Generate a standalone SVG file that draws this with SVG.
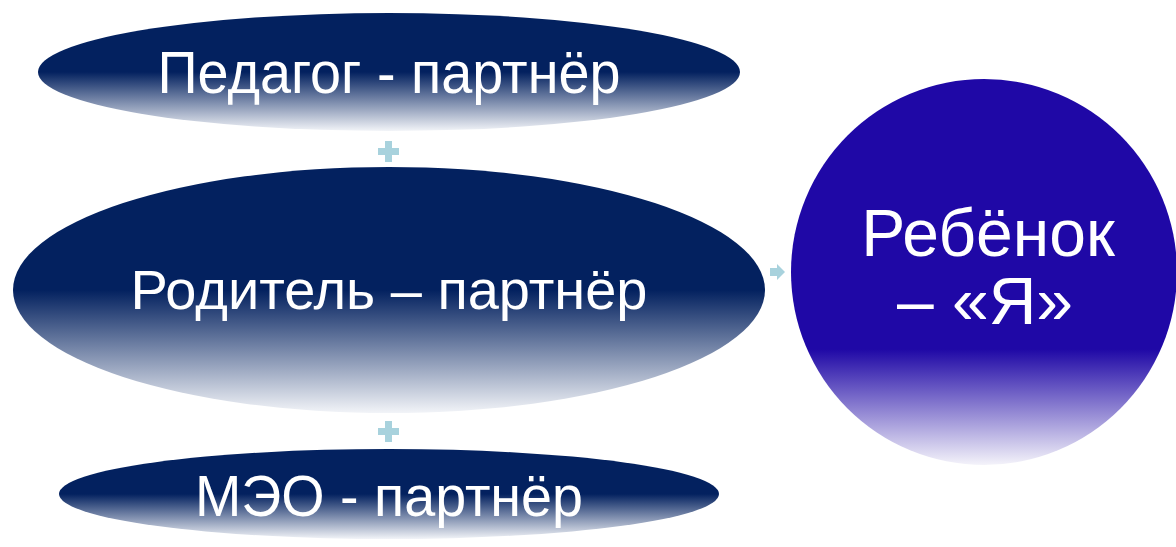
<svg xmlns="http://www.w3.org/2000/svg" width="1176" height="547" viewBox="0 0 1176 547">
<defs>
<linearGradient id="gEll" x1="0" y1="0" x2="0" y2="1">
<stop offset="0" stop-color="#03215F"/>
<stop offset="0.5" stop-color="#03215F"/>
<stop offset="1" stop-color="#F2F4F8"/>
</linearGradient>
<linearGradient id="gCirc" x1="0" y1="0" x2="0" y2="1">
<stop offset="0" stop-color="#1F08A6"/>
<stop offset="0.7" stop-color="#1F08A6"/>
<stop offset="1" stop-color="#F4F3FA"/>
</linearGradient>
<style>
.ell{fill:url(#gEll);}
.circ{fill:url(#gCirc);}
.t{fill:#FFFFFF;font-family:"Liberation Sans",Arial,sans-serif;text-anchor:middle;}
.con{fill:#A8D2DD;}
</style>
</defs>
<rect width="1176" height="547" fill="#FFFFFF"/>
<g id="connectors">
<path class="con" d="M385,141h7v7h7v7h-7v7h-7v-7h-7v-7h7z"/>
<path class="con" d="M385,421h7v7h7v7h-7v7h-7v-7h-7v-7h7z"/>
<path class="con" d="M770,268h7v-4l8,8l-8,8v-4h-7z"/>
</g>
<g id="node-pedagog">
<ellipse class="ell" cx="389" cy="72" rx="351" ry="59"/>
<text class="t" x="389" y="93" font-size="60" textLength="463" lengthAdjust="spacingAndGlyphs">Педагог - партнёр</text>
</g>
<g id="node-roditel">
<ellipse class="ell" cx="389" cy="290" rx="376" ry="123"/>
<text class="t" x="389" y="309" font-size="56" textLength="517" lengthAdjust="spacingAndGlyphs">Родитель – партнёр</text>
</g>
<g id="node-meo">
<ellipse class="ell" cx="389" cy="494" rx="330" ry="45"/>
<text class="t" x="389" y="516" font-size="57" textLength="388" lengthAdjust="spacingAndGlyphs">МЭО - партнёр</text>
</g>
<g id="node-rebenok">
<circle class="circ" cx="984" cy="272" r="193"/>
<text class="t" font-size="66"><tspan x="988" y="256">Ребёнок</tspan><tspan x="985" y="324">– «Я»</tspan></text>
</g>
</svg>
